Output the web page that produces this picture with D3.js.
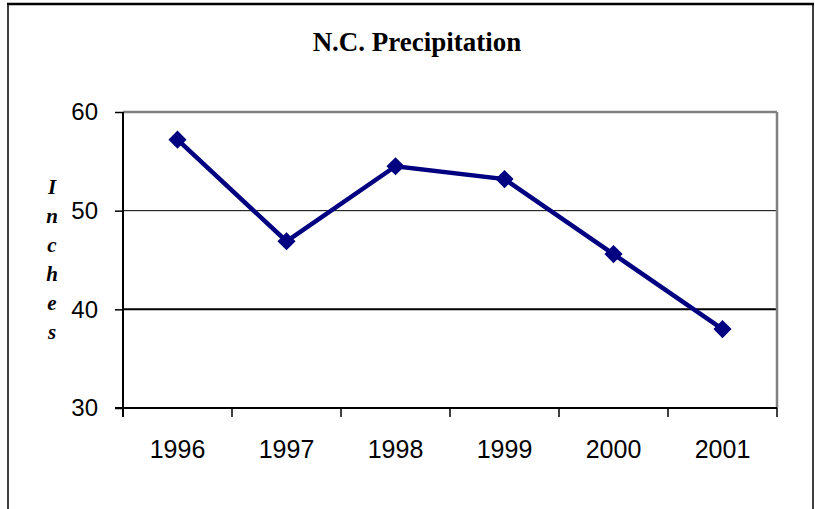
<!DOCTYPE html>
<html>
<head>
<meta charset="utf-8">
<script src="https://cdn.jsdelivr.net/npm/d3@7"></script>
<style>
  body { margin: 0; background: #fff; }
  .axis text { font-family: "Liberation Sans", Arial, sans-serif; fill: #000; }
  .axis path { display: none; }
</style>
</head>
<body>
<div id="chart"></div>
<script>
// data
var years = ["1996", "1997", "1998", "1999", "2000", "2001"];
var inches = [57.2, 46.9, 54.5, 53.2, 45.6, 38.0];
var yTicks = [30, 40, 50, 60];
var titleText = "N.C. Precipitation";
var yLabel = "Inches";

var width = 815,
  height = 509;
var margin = { left: 123, top: 112, right: 38, bottom: 101 };
var innerW = width - margin.left - margin.right;
var innerH = height - margin.top - margin.bottom;

var data = years.map(function (d, i) {
  return { year: d, value: inches[i] };
});

var x = d3.scaleBand().domain(years).range([0, innerW]).padding(0);
var y = d3.scaleLinear().domain([30, 60]).range([innerH, 0]);

var svg = d3
  .select("#chart")
  .append("svg")
  .attr("width", width)
  .attr("height", height);

// outer frame (top + sides)
svg.append("line").attr("x1", 7).attr("x2", 814).attr("y1", 4).attr("y2", 4)
  .attr("stroke", "#000").attr("stroke-width", 2.5);
svg.append("line").attr("x1", 8).attr("x2", 8).attr("y1", 4).attr("y2", height)
  .attr("stroke", "#000").attr("stroke-width", 1.5);
svg.append("line").attr("x1", 813).attr("x2", 813).attr("y1", 4).attr("y2", height)
  .attr("stroke", "#000").attr("stroke-width", 1.5);

// title
svg.append("text")
  .attr("x", 417)
  .attr("y", 51)
  .attr("text-anchor", "middle")
  .style("font-family", "'Liberation Serif', 'Times New Roman', serif")
  .style("font-weight", "bold")
  .style("font-size", "27px")
  .text(titleText);

// stacked y label
svg.append("g")
  .selectAll("text")
  .data(yLabel.split(""))
  .enter()
  .append("text")
  .attr("x", 52)
  .attr("y", function (d, i) { return 194 + i * 29; })
  .attr("text-anchor", "middle")
  .style("font-family", "'Liberation Serif', 'Times New Roman', serif")
  .style("font-weight", "bold")
  .style("font-style", "italic")
  .style("font-size", "21px")
  .text(function (d) { return d; });

var g = svg.append("g")
  .attr("transform", "translate(" + margin.left + "," + margin.top + ")");

// gridlines
g.selectAll(".grid")
  .data([40, 50])
  .enter()
  .append("line")
  .attr("class", "grid")
  .attr("x1", 0)
  .attr("x2", innerW)
  .attr("y1", function (d) { return y(d); })
  .attr("y2", function (d) { return y(d); })
  .attr("stroke", "#000")
  .attr("stroke-width", function (d) { return d == 40 ? 2 : 1; });

// plot border: grey top/right, black left/bottom
g.append("line").attr("x1", 0).attr("x2", innerW).attr("y1", y(60)).attr("y2", y(60))
  .attr("stroke", "#808080").attr("stroke-width", 2.5);
g.append("line").attr("x1", innerW).attr("x2", innerW).attr("y1", y(60)).attr("y2", innerH)
  .attr("stroke", "#808080").attr("stroke-width", 2.5);

// y axis
var yAxisG = g.append("g")
  .attr("class", "axis")
  .call(d3.axisLeft(y).tickValues(yTicks).tickSize(8).tickPadding(17));
yAxisG.selectAll("text").style("font-size", "24px");
yAxisG.selectAll("line").attr("stroke", "#000").attr("stroke-width", 1.5);

// x axis labels
var xAxisG = g.append("g")
  .attr("class", "axis")
  .attr("transform", "translate(0," + innerH + ")")
  .call(d3.axisBottom(x).tickSize(0).tickPadding(32));
xAxisG.selectAll("text").style("font-size", "25px");

// x boundary ticks
var bounds = years.map(function (d) { return x(d); }).concat([innerW]);
g.selectAll(".xtick")
  .data(bounds)
  .enter()
  .append("line")
  .attr("class", "xtick")
  .attr("x1", function (d) { return d; })
  .attr("x2", function (d) { return d; })
  .attr("y1", innerH)
  .attr("y2", innerH + 9)
  .attr("stroke", "#000")
  .attr("stroke-width", 1.5);

// axis lines
g.append("line").attr("x1", 0).attr("x2", 0).attr("y1", y(60)).attr("y2", innerH + 9)
  .attr("stroke", "#000").attr("stroke-width", 2);
g.append("line").attr("x1", -8).attr("x2", innerW).attr("y1", innerH).attr("y2", innerH)
  .attr("stroke", "#000").attr("stroke-width", 2);

// series line
var line = d3.line()
  .x(function (d) { return x(d.year) + x.bandwidth() / 2; })
  .y(function (d) { return y(d.value); });

g.append("path")
  .datum(data)
  .attr("fill", "none")
  .attr("stroke", "#000080")
  .attr("stroke-width", 4.5)
  .attr("d", line);

// diamond markers
g.selectAll(".marker")
  .data(data)
  .enter()
  .append("path")
  .attr("class", "marker")
  .attr("d", d3.symbol().type(d3.symbolSquare).size(165))
  .attr("transform", function (d) {
    return "translate(" + (x(d.year) + x.bandwidth() / 2) + "," + y(d.value) + ") rotate(45)";
  })
  .attr("fill", "#000080");
</script>
</body>
</html>
